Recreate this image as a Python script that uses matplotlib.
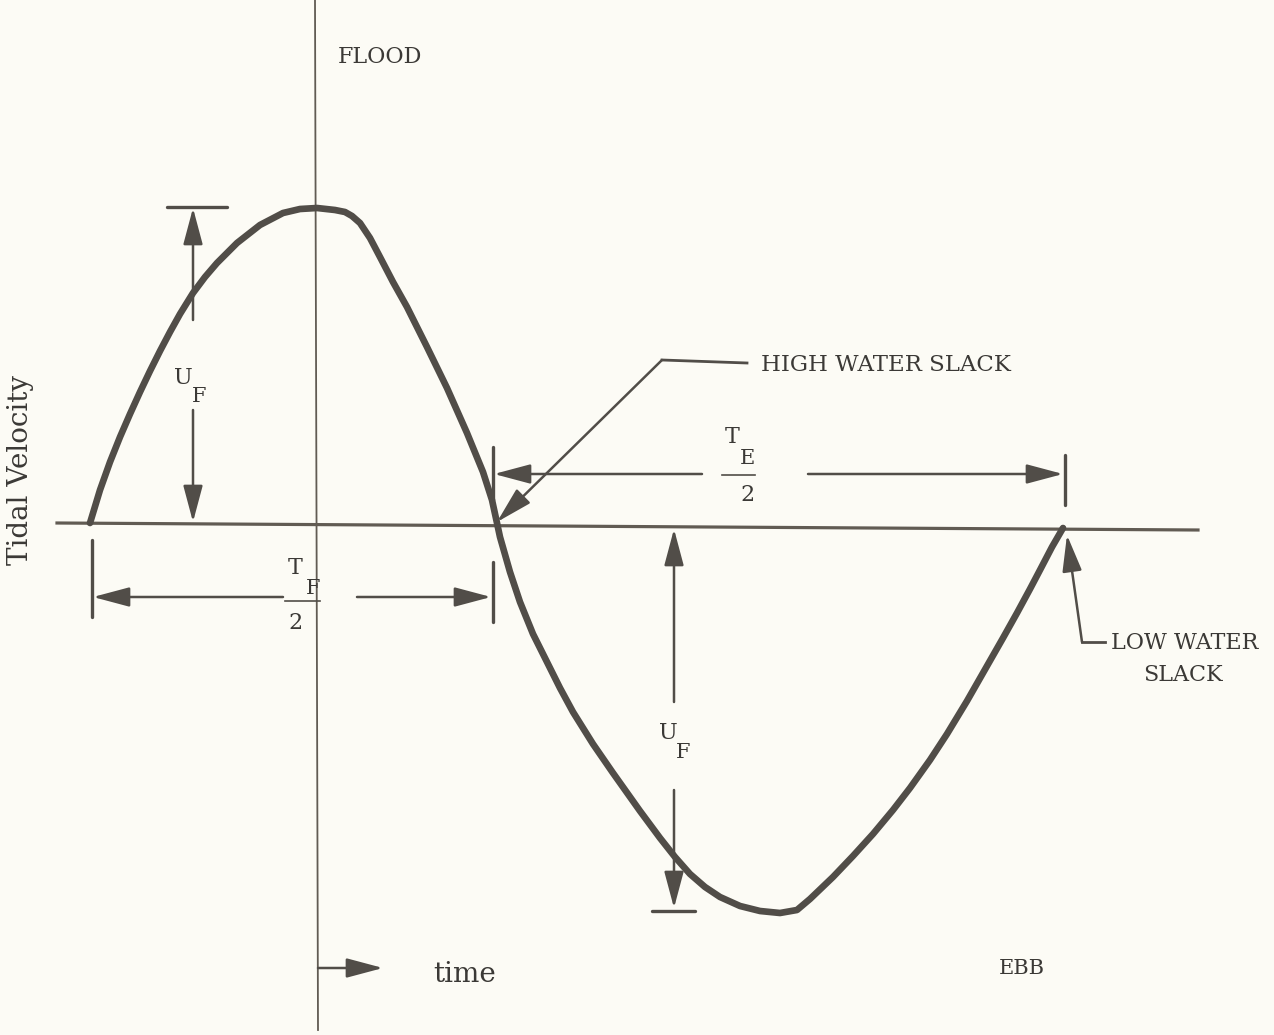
import matplotlib
matplotlib.use("Agg")
import matplotlib.pyplot as plt

# hand drawn tidal velocity curve (pixel coords, y down)
curve_x = [90, 100, 110, 120, 130, 140, 150, 160, 170, 180, 193, 205, 217, 237,
           260, 283, 300, 317, 335, 345, 352, 360, 370, 380, 393, 407, 427, 447,
           467, 483, 492, 497, 500, 510, 520, 533, 547, 560, 573, 593, 613, 640,
           660, 675, 690, 705, 720, 740, 760, 780, 797, 810, 833, 853, 873, 893,
           910, 930, 947, 967, 987, 1003, 1017, 1030, 1040, 1052, 1063]
curve_y = [523, 490, 462, 437, 414, 392, 371, 351, 332, 314, 293, 277, 263, 243,
           225, 213, 209, 208, 210, 212, 216, 223, 238, 257, 282, 307, 347, 388,
           433, 472, 500, 523, 537, 572, 602, 634, 662, 688, 712, 744, 773, 811,
           838, 857, 874, 887, 897, 906, 911, 913, 910, 899, 877, 856, 834, 810,
           788, 760, 734, 701, 666, 638, 613, 589, 570, 547, 528]

# axes of the sketch
time_axis_x = [57, 1198]
time_axis_y = [523, 530]
vel_axis_x = [315, 318]
vel_axis_y = [0, 1030]

# dimension arrows: (tail, tip)
arrows = [
    ((193, 320), (193, 208)),   # U_F upper, up
    ((193, 410), (193, 522)),   # U_F upper, down
    ((283, 597), (93, 597)),    # T_F/2 left
    ((357, 597), (491, 597)),   # T_F/2 right
    ((702, 474), (494, 474)),   # T_E/2 left
    ((808, 474), (1063, 474)),  # T_E/2 right
    ((674, 702), (674, 529)),   # U_F lower, up
    ((674, 790), (674, 908)),   # U_F lower, down
    ((662, 360), (497, 522)),   # high water slack pointer
    ((1082, 642), (1067, 535)), # low water slack pointer
    ((318, 968), (383, 968)),   # time
]
# end bars of the dimension arrows: (x0, x1, y0, y1)
bars = [
    (167, 227, 207, 207),
    (92, 92, 540, 617),
    (493, 493, 562, 622),
    (493, 493, 447, 500),
    (1065, 1065, 455, 505),
    (652, 695, 911, 911),
]
# leader tails
leaders = [
    ([747, 662], [363, 360]),
    ([1105, 1082], [642, 642]),
]

INK = "#514d48"
AXIS = "#615b53"
TEXT = "#3b3936"
BG = "#fcfbf5"
FONT = "DejaVu Serif"

fig = plt.figure(figsize=(12.74, 10.35), dpi=100, facecolor=BG)
ax = fig.add_axes([0, 0, 1, 1])
ax.set_facecolor(BG)
ax.set_xlim(0, 1274)
ax.set_ylim(1035, 0)
ax.axis("off")

ax.plot(vel_axis_x, vel_axis_y, color=AXIS, lw=1.3)
ax.plot(time_axis_x, time_axis_y, color=AXIS, lw=2.3)
ax.plot(curve_x, curve_y, color=INK, lw=4.8, solid_capstyle="round",
        solid_joinstyle="round")

for (tx, ty), (hx, hy) in arrows:
    ax.annotate("", xy=(hx, hy), xytext=(tx, ty),
                arrowprops=dict(arrowstyle="-|>,head_length=1.5,head_width=0.4",
                                color=INK, lw=1.8, mutation_scale=15,
                                shrinkA=0, shrinkB=0))
for x0, x1, y0, y1 in bars:
    ax.plot([x0, x1], [y0, y1], color=INK, lw=2.4, solid_capstyle="round")
for lx, ly in leaders:
    ax.plot(lx, ly, color=INK, lw=2.0)

# fraction bars
ax.plot([285, 320], [601, 601], color=INK, lw=1.2)
ax.plot([722, 755], [475, 475], color=INK, lw=1.2)

def label(x, y, s, size=16, **kw):
    ax.text(x, y, s, fontsize=size, color=TEXT, family=FONT,
            ha="center", va="center", **kw)

label(380, 57, "FLOOD")
label(21, 470, "Tidal Velocity", size=20, rotation=90)
label(886, 365, "HIGH WATER SLACK", size=16.5)
label(1185, 643, "LOW WATER")
label(1183, 675, "SLACK")
label(465, 975, "time", size=20)
label(1022, 968, "EBB", size=15)

label(183, 378, "U")
label(199, 396, "F", size=15)
label(668, 733, "U")
label(683, 753, "F", size=15)
label(295, 568, "T")
label(313, 589, "F", size=15)
label(296, 623, "2")
label(732, 437, "T")
label(747, 459, "E", size=15)
label(747, 495, "2")

fig.savefig("out.png", dpi=100, facecolor=BG)
